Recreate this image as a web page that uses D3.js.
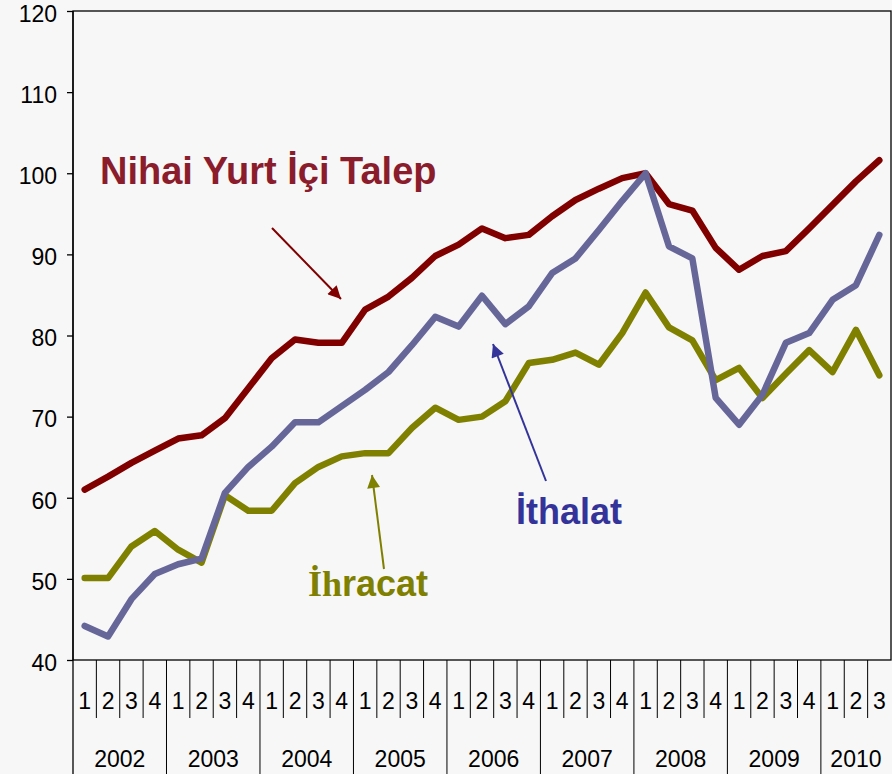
<!DOCTYPE html>
<html>
<head>
<meta charset="utf-8">
<script src="https://cdn.jsdelivr.net/npm/d3@7"></script>
<style>
  body { margin: 0; background: #f7f7f7; }
  svg { display: block; font-family: Arial, "Liberation Sans", sans-serif; }
</style>
</head>
<body>
<div id="chart"></div>
<script>
// yıllar ve çeyrekler
const years = ["2002", "2003", "2004", "2005", "2006", "2007", "2008", "2009", "2010"];
const quartersPerYear = [4, 4, 4, 4, 4, 4, 4, 4, 3];
const yTicks = [40, 50, 60, 70, 80, 90, 100, 110, 120];

// seriler (2008Q1 = 100)
const talep = [61.0, 62.6, 64.3, 65.8, 67.3, 67.7, 69.8, 73.5, 77.2, 79.5, 79.1, 79.1,
  83.2, 84.8, 87.1, 89.8, 91.2, 93.2, 92.0, 92.4, 94.7, 96.7, 98.1, 99.4,
  100.0, 96.2, 95.4, 90.8, 88.1, 89.8, 90.4, 93.2, 96.1, 99.0, 101.6];
const ithalat = [44.2, 42.9, 47.5, 50.6, 51.8, 52.5, 60.6, 63.8, 66.3, 69.3, 69.3, 71.3,
  73.3, 75.5, 78.8, 82.3, 81.1, 84.9, 81.4, 83.6, 87.7, 89.5, 93.0, 96.6,
  100.0, 91.0, 89.5, 72.3, 69.0, 72.7, 79.1, 80.3, 84.4, 86.2, 92.4];
const ihracat = [50.1, 50.1, 54.0, 55.9, 53.6, 52.0, 60.3, 58.4, 58.4, 61.8, 63.8, 65.1,
  65.5, 65.5, 68.6, 71.1, 69.6, 70.0, 71.9, 76.6, 77.0, 77.9, 76.4, 80.3,
  85.3, 81.0, 79.4, 74.5, 76.0, 72.3, 75.3, 78.2, 75.5, 80.7, 75.1];

// kategori listesi
let cats = [];
years.forEach(function(yr, i){
    for( let q=1; q<=quartersPerYear[i]; q++ ){
        cats.push({key: yr+"-"+q, year: yr, q: q});
    }
});

const W = 892, H = 774;
const pLeft = 73, pRight = 891, pTop = 11, pBottom = 660;
const axisFont = 23;

const svg = d3.select("#chart").append("svg")
    .attr("width", W)
    .attr("height", H);

svg.append("rect").attr("width", W).attr("height", H).attr("fill", "#f7f7f7");

const x = d3.scaleBand()
    .domain(cats.map(d => d.key))
    .range([pLeft, pRight])
    .padding(0);
const y = d3.scaleLinear()
    .domain([40, 120])
    .range([pBottom, pTop]);

// çerçeve
svg.append("rect")
    .attr("x", pLeft).attr("y", pTop)
    .attr("width", pRight-pLeft).attr("height", pBottom-pTop)
    .attr("fill", "none")
    .attr("stroke", "#000")
    .attr("stroke-width", 1.3);

// y ekseni
const yAxis = svg.append("g")
    .attr("transform", "translate("+pLeft+",0)")
    .call(d3.axisLeft(y).tickValues(yTicks).tickSize(6).tickPadding(10));
yAxis.select(".domain").remove();
yAxis.selectAll(".tick line").attr("stroke", "#000").attr("stroke-width", 1.3);
yAxis.selectAll(".tick text")
    .attr("font-size", axisFont)
    .attr("font-family", "Arial, 'Liberation Sans', sans-serif")
    .attr("dy", "0.45em")
    .attr("fill", "#000");

// sol eksen çizgisi aşağıya kadar
svg.append("line")
    .attr("x1", pLeft).attr("x2", pLeft)
    .attr("y1", pTop).attr("y2", H)
    .attr("stroke", "#000").attr("stroke-width", 1.3);

// çeyrek ayırıcıları
const g_x = svg.append("g");
g_x.selectAll("line.q")
    .data(cats.filter(d => d.q > 1))
    .enter()
    .append("line")
    .attr("class", "q")
    .attr("x1", d => x(d.key)).attr("x2", d => x(d.key))
    .attr("y1", pBottom).attr("y2", 718)
    .attr("stroke", "#000").attr("stroke-width", 1);

// yıl ayırıcıları
g_x.selectAll("line.yr")
    .data(cats.filter(d => d.q == 1 && d.year != years[0]))
    .enter()
    .append("line")
    .attr("class", "yr")
    .attr("x1", d => x(d.key)).attr("x2", d => x(d.key))
    .attr("y1", pBottom).attr("y2", H)
    .attr("stroke", "#000").attr("stroke-width", 1);

// çeyrek numaraları
g_x.selectAll("text.q")
    .data(cats)
    .enter()
    .append("text")
    .attr("class", "q")
    .text(d => d.q)
    .attr("x", d => x(d.key) + x.bandwidth()/2)
    .attr("y", 709)
    .attr("text-anchor", "middle")
    .attr("font-size", axisFont);

// yıl etiketleri
g_x.selectAll("text.yr")
    .data(years)
    .enter()
    .append("text")
    .attr("class", "yr")
    .text(d => d)
    .attr("x", function(d, i){
        const n = quartersPerYear[i];
        return x(d+"-1") + x.bandwidth()*n/2;
    })
    .attr("y", 767)
    .attr("text-anchor", "middle")
    .attr("font-size", axisFont);

// çizgiler
const line = d3.line()
    .x((d, i) => x(cats[i].key) + x.bandwidth()/2)
    .y(d => y(d));

const series = [
    {name: "talep", values: talep, color: "#800000"},
    {name: "ihracat", values: ihracat, color: "#808000"},
    {name: "ithalat", values: ithalat, color: "#666699"}
];
svg.selectAll("path.series")
    .data(series)
    .enter()
    .append("path")
    .attr("class", "series")
    .attr("d", d => line(d.values))
    .attr("fill", "none")
    .attr("stroke", d => d.color)
    .attr("stroke-width", 6.5)
    .attr("stroke-linejoin", "round")
    .attr("stroke-linecap", "round");

// oklar
const defs = svg.append("defs");
function marker(id, color){
    defs.append("marker")
        .attr("id", id)
        .attr("viewBox", "0 0 10 10")
        .attr("refX", 10).attr("refY", 5)
        .attr("markerUnits", "userSpaceOnUse")
        .attr("markerWidth", 16).attr("markerHeight", 13)
        .attr("orient", "auto")
        .append("path")
        .attr("d", "M0,0 L10,5 L0,10 Z")
        .attr("fill", color);
}
marker("arr_red", "#800000");
marker("arr_blue", "#333399");
marker("arr_olive", "#808000");

const arrows = [
    {x1: 272, y1: 228, x2: 341, y2: 299, color: "#800000", m: "arr_red"},
    {x1: 546, y1: 481, x2: 493, y2: 344, color: "#333399", m: "arr_blue"},
    {x1: 384, y1: 569, x2: 372, y2: 475, color: "#808000", m: "arr_olive"}
];
svg.selectAll("line.arrow")
    .data(arrows)
    .enter()
    .append("line")
    .attr("class", "arrow")
    .attr("x1", d => d.x1).attr("y1", d => d.y1)
    .attr("x2", d => d.x2).attr("y2", d => d.y2)
    .attr("stroke", d => d.color)
    .attr("stroke-width", 2)
    .attr("marker-end", d => "url(#"+d.m+")");

// seri etiketleri
svg.append("text")
    .text("Nihai Yurt İçi Talep")
    .attr("x", 100).attr("y", 184)
    .attr("font-size", 38)
    .attr("font-weight", "bold")
    .attr("fill", "#8b1c2c");

svg.append("text")
    .text("İthalat")
    .attr("x", 516).attr("y", 524)
    .attr("font-size", 36)
    .attr("font-weight", "bold")
    .attr("fill", "#333399");

const t_ihr = svg.append("text")
    .attr("x", 308).attr("y", 596)
    .attr("font-size", 36)
    .attr("font-weight", "bold")
    .attr("fill", "#808000");
t_ihr.append("tspan")
    .attr("font-family", "'Liberation Serif', 'DejaVu Serif', serif")
    .text("İh");
t_ihr.append("tspan").text("racat");
</script>
</body>
</html>
